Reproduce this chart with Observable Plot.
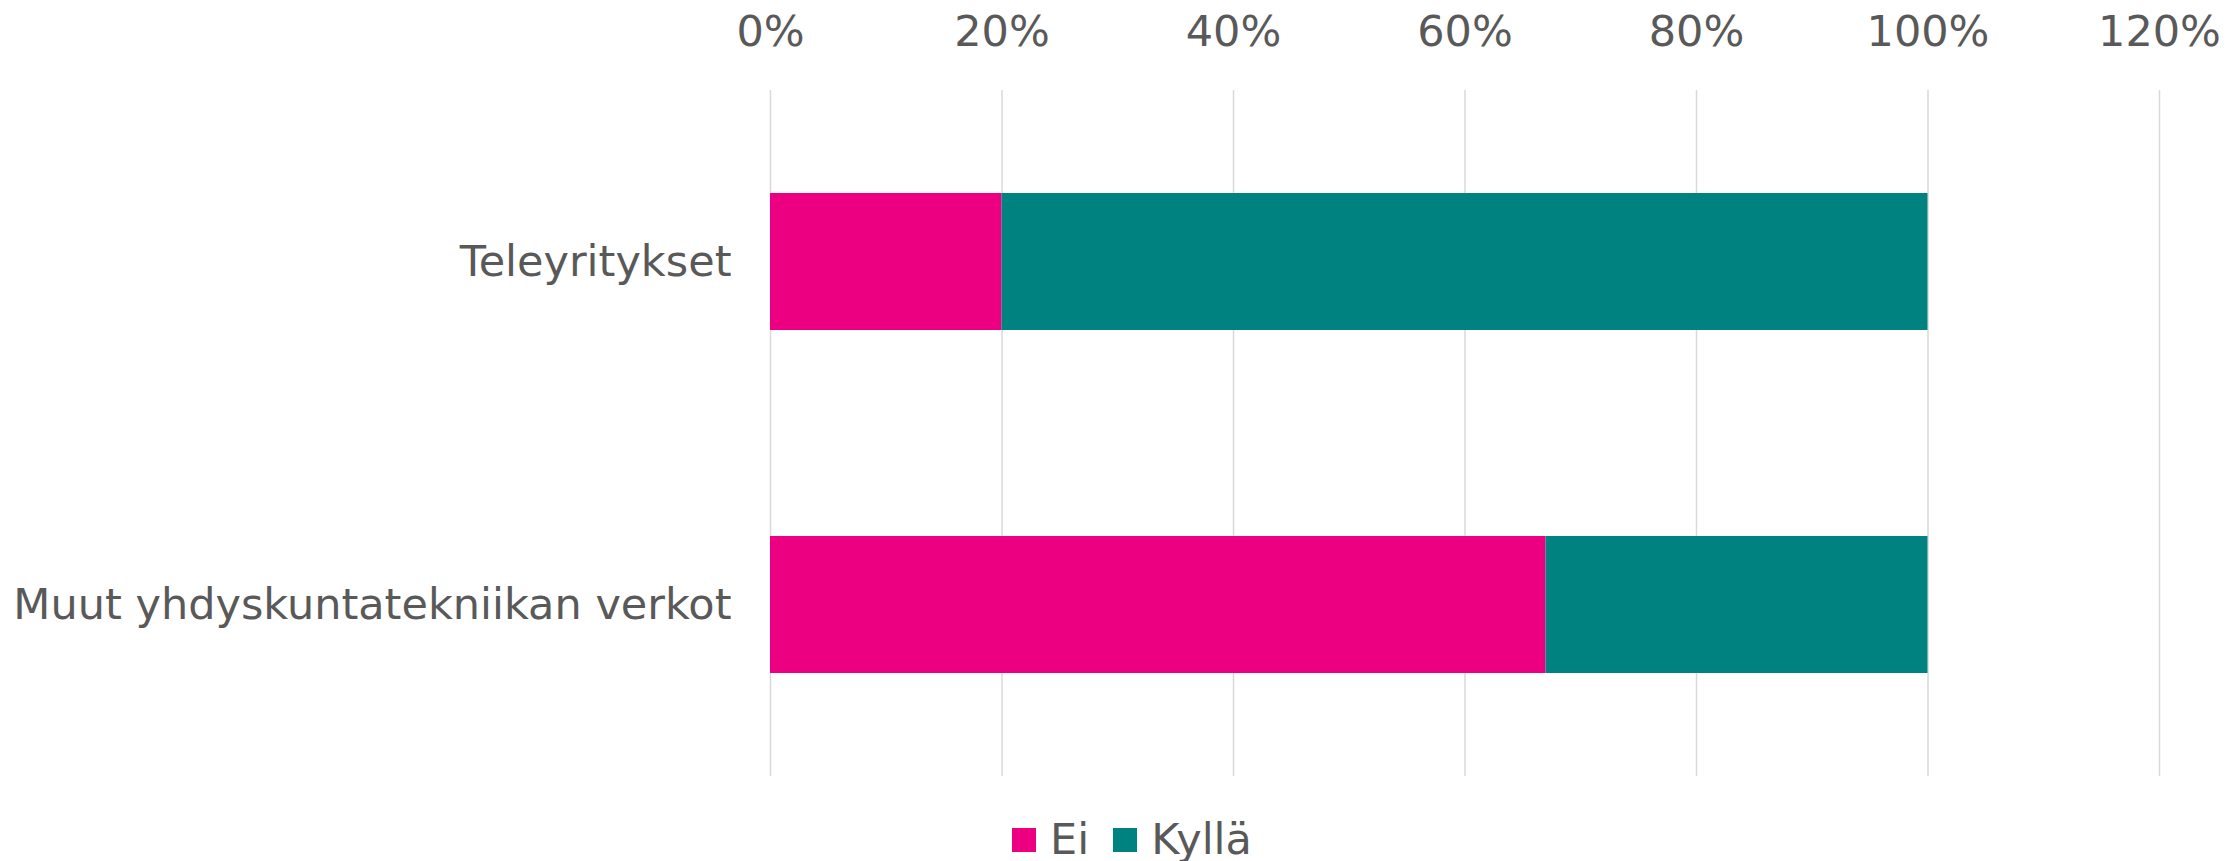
<!DOCTYPE html>
<html>
<head>
<meta charset="utf-8">
<script src="https://cdn.jsdelivr.net/npm/d3@7"></script>
<script src="https://cdn.jsdelivr.net/npm/@observablehq/plot@0.6"></script>
<style>
  html, body { margin: 0; padding: 0; background: #fff; }
  #wrap { width: 2229px; font-family: "DejaVu Sans", Verdana, sans-serif; color: #595959; }
  #legend { height: 61px; box-sizing: border-box; padding-top: 18px; display: flex; align-items: center; margin-left: 1012px; font-size: 43px; line-height: 1; }
  .item { display: flex; align-items: center; margin-right: 24px; }
  .sw { width: 24px; height: 24px; margin-right: 14px; }
</style>
</head>
<body>
<div id="wrap"><div id="chart"></div><div id="legend"></div></div>
<script>
const categories = ["Teleyritykset", "Muut yhdyskuntatekniikan verkot"];
const seriesNames = ["Ei", "Kyllä"];
const eiValues = [0.20, 0.67];
const kyllaValues = [0.80, 0.33];
const colors = ["#EC0081", "#008280"];
const xTicks = [0, 0.2, 0.4, 0.6, 0.8, 1.0, 1.2];

const data = [];
categories.forEach((c, i) => {
  data.push({category: c, series: seriesNames[0], value: eiValues[i]});
  data.push({category: c, series: seriesNames[1], value: kyllaValues[i]});
});

const chart = Plot.plot({
  width: 2229,
  height: 800,
  marginLeft: 770,
  marginRight: 70,
  marginTop: 90,
  marginBottom: 24,
  style: {fontFamily: '"DejaVu Sans", Verdana, sans-serif', fontSize: "43px", color: "#595959", background: "#fff"},
  x: {domain: [0, 1.2], ticks: xTicks, tickFormat: d => Math.round(d * 100) + "%", axis: "top", label: null, tickSize: 0, tickPadding: 45},
  y: {domain: categories, label: null, tickSize: 0, tickPadding: 39, paddingInner: 0.6, paddingOuter: 0.3},
  color: {domain: seriesNames, range: colors},
  marks: [
    Plot.gridX(xTicks, {stroke: "#d9d9d9", strokeOpacity: 1, strokeWidth: 1.5}),
    Plot.barX(data, Plot.stackX({x: "value", y: "category", fill: "series", order: seriesNames}))
  ]
});
document.getElementById("chart").appendChild(chart);

const legend = document.getElementById("legend");
seriesNames.forEach((s, i) => {
  const it = document.createElement("div");
  it.className = "item";
  const sw = document.createElement("div");
  sw.className = "sw";
  sw.style.background = colors[i];
  const t = document.createElement("span");
  t.textContent = s;
  it.appendChild(sw);
  it.appendChild(t);
  legend.appendChild(it);
});
</script>
</body>
</html>
